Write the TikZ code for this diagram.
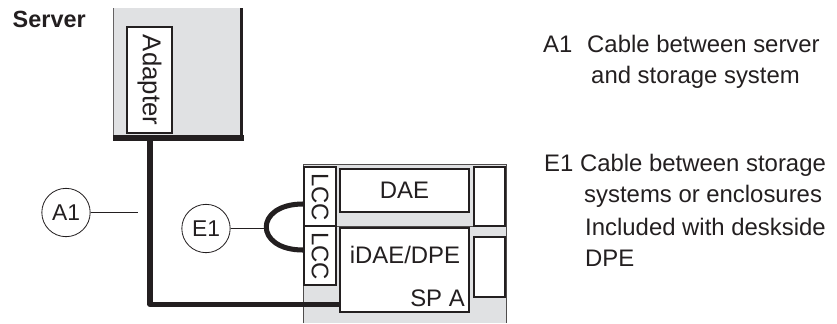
\documentclass[tikz,border=0pt]{standalone}
\usepackage{fontspec}
\setmainfont{Liberation Sans}
\definecolor{chassis}{RGB}{224,225,227}
\definecolor{inkline}{RGB}{35,31,32}
\usetikzlibrary{positioning}
\newcommand{\labelfont}{\fontsize{20.4}{20.4}\selectfont}
\tikzset{
  unitbox/.style={draw=inkline, line width=0.9pt, fill=white, inner sep=0pt},
  callout/.style={circle, draw=inkline, line width=0.7pt, minimum size=1.45cm, inner sep=0pt, font=\fontsize{19.5}{19.5}\selectfont, text=inkline},
  leadline/.style={draw=inkline, line width=0.7pt},
  cable/.style={draw=inkline, line width=4.3pt, line join=round},
  notetext/.style={anchor=base west, font=\labelfont, text=inkline, inner sep=0pt},
  unitlabel/.style={font=\labelfont, text=inkline, inner sep=0pt},
}
\begin{document}
\begin{tikzpicture}[x=0.03cm,y=-0.03cm]
  \useasboundingbox (0,0) rectangle (837,323);

  % Server
  \fill[chassis] (113,8) rectangle (241,136);
  \draw[inkline!70,line width=0.8pt] (113,8)--(113,136);
  \draw[inkline,line width=3.4pt] (241.5,8)--(241.5,141);
  \draw[inkline,line width=5pt] (113,138.3)--(243.5,138.3);
  \node[unitbox, minimum width=1.35cm, minimum height=3.18cm] (adapter) at (149.5,80) {};
  \node[rotate=-90, font=\fontsize{22}{22}\selectfont, text=inkline, inner sep=0pt] (adapterlabel) at (149.5,80) {Adapter};
  \node[anchor=base west, font=\bfseries\fontsize{20}{20}\selectfont, text=inkline, inner sep=0pt] (server) at (12.5,27) {Server};

  % Storage
  \fill[chassis] (303,164) rectangle (506,323);
  \draw[inkline!80,line width=0.8pt] (303,323)--(303,164)--(506,164)--(506,323);
  \draw[inkline!80,line width=0.8pt] (303,226)--(506,226);
  \node[unitbox, minimum width=0.96cm, minimum height=1.77cm] (lcctop) at (320,196.5) {};
  \node[unitbox, minimum width=0.96cm, minimum height=1.77cm] (lccbot) at (320,255.5) {};
  \node[unitlabel, rotate=-90] (lcctoplabel) at (320,197) {LCC};
  \node[unitlabel, rotate=-90] (lccbotlabel) at (320,256) {LCC};
  \node[unitbox, minimum width=3.87cm, minimum height=1.29cm, font=\labelfont, text=inkline] (dae) at (404.5,190.5) {DAE};
  \node[unitbox, minimum width=3.87cm, minimum height=2.52cm] (idae) at (404.5,270) {};
  \node[unitlabel] (idaelabel) at (405,255) {iDAE/DPE};
  \node[unitlabel, anchor=base east] (spa) at (465,306) {SP A};
  \node[unitbox, minimum width=0.93cm, minimum height=1.77cm] (slottop) at (489.5,196.5) {};
  \node[unitbox, minimum width=0.93cm, minimum height=1.8cm] (slotbot) at (489.5,267) {};

  % Cables
  \coordinate (adapterout) at (150,139);
  \coordinate (idaein) at (idae.west |- 0,304.4);
  \draw[cable] (adapterout)--(150,304.4)--(idaein);
  \coordinate (looptop) at (303,204);
  \coordinate (loopbot) at (303,250);
  \draw[cable] (looptop) .. controls (254,204) and (254,250) .. (loopbot);

  % Callouts
  \node[callout] (aone) at (66,212.5) {A1};
  \node[callout] (eone) at (206,228.5) {E1};
  \coordinate (aoneend) at (138,212.5);
  \coordinate (eoneend) at (265,228.5);
  \draw[leadline] (aone)--(aoneend);
  \draw[leadline] (eone)--(eoneend);

  % Notes
  \node[notetext] (noteA) at (543,52) {A1};
  \node[notetext] (noteAa) at (587,52) {Cable between server};
  \node[notetext] (noteAb) at (591,83) {and storage system};
  \node[notetext] (noteE) at (544,171) {E1 Cable between storage};
  \node[notetext] (noteEb) at (584,202) {systems or enclosures};
  \node[notetext] (noteEc) at (585,235) {Included with deskside};
  \node[notetext] (noteEd) at (585,266) {DPE};
\end{tikzpicture}
\end{document}
